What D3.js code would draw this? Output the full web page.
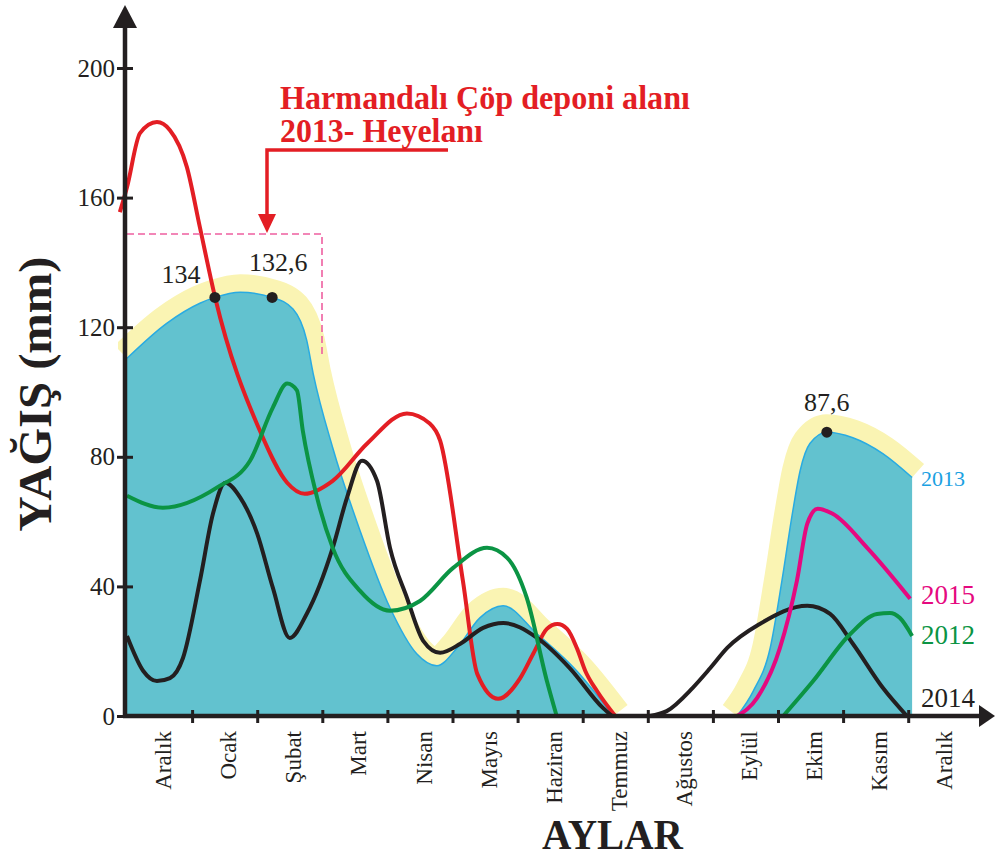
<!DOCTYPE html>
<html>
<head>
<meta charset="utf-8">
<script src="https://cdn.jsdelivr.net/npm/d3@7"></script>
<style>
  body { margin: 0; background: #fff; }
  text { font-family: "Liberation Serif", "DejaVu Serif", serif; }
</style>
</head>
<body>
<svg id="svg1" width="995" height="858"></svg>
<script>
// aylar (x ekseni), ay indisi: 0 = sol eksen, her ay bir birim
var aylar = ["Aralık", "Ocak", "Şubat", "Mart", "Nisan", "Mayıs", "Haziran",
             "Temmuz", "Ağustos", "Eylül", "Ekim", "Kasım", "Aralık"];
var yTikler = [0, 40, 80, 120, 160, 200];

// [ay, yağış mm] - resimden okunan noktalar
var yagis2013a = [[0, 110.4], [0.61, 121.2], [1.12, 127.4], [1.35, 129.2], [1.74, 130.8],
  [2.23, 129.2], [2.55, 125.6], [2.76, 116], [2.86, 105.7], [3.16, 82.8], [3.58, 57.2],
  [4.04, 33.4], [4.45, 19.2], [4.76, 15.5], [5.07, 21], [5.42, 30.3], [5.78, 34],
  [6.3, 25.3], [6.91, 13.9], [7.47, 0]];
var yagis2013b = [[9.37, 0], [9.62, 7.7], [9.88, 21], [10.06, 41.7], [10.22, 62.4],
  [10.34, 75.7], [10.49, 84.1], [10.75, 87.6], [11.15, 85.9], [11.61, 81], [12.06, 73.6]];

var yagisKirmizi = [[-0.11, 155.5], [0, 163.2], [0.2, 179.9], [0.46, 183.3], [0.66, 180.8],
  [0.92, 169.4], [1.12, 150.8], [1.35, 129.5], [2.04, 88.1], [2.46, 72], [2.73, 68.6],
  [3.16, 72.6], [3.69, 84.1], [4.3, 93.4], [4.65, 90.3], [4.81, 85], [5.16, 41.7],
  [5.38, 13], [5.7, 5.3], [6.04, 11.7], [6.24, 19.2], [6.45, 26.9], [6.61, 28.4],
  [6.76, 26.9], [6.91, 21], [7.04, 13.9], [7.22, 7.7], [7.5, 0]];

var yagis2012a = [[0, 68], [0.55, 64.3], [1.38, 70.5], [1.89, 78.8], [2.24, 95.2],
  [2.46, 102.6], [2.61, 100.5], [2.7, 88.1], [2.92, 67.4], [3.16, 51.9], [3.58, 38.6],
  [4.04, 32.5], [4.5, 35.5], [5.01, 45.7], [5.53, 51.9], [5.84, 48.8], [6.14, 36.5],
  [6.45, 10.8], [6.6, 0]];
var yagis2012b = [[10.08, 0], [10.54, 10.8], [11.11, 25.3], [11.52, 31.5], [11.72, 31.8],
  [11.87, 30.3], [12.06, 24.7]];

var yagis2014a = [[0, 24.7], [0.25, 13.9], [0.46, 10.8], [0.66, 11.7], [0.86, 17.9],
  [1.12, 41.7], [1.32, 62.4], [1.51, 72], [1.74, 67.4], [2, 56.3], [2.24, 39.6],
  [2.5, 24.1], [2.76, 31.5], [3.16, 51.9], [3.38, 67.4], [3.61, 78.8], [3.84, 72.6],
  [4.04, 51.9], [4.3, 36.5], [4.55, 23.2], [4.81, 19.5], [5.12, 22.3], [5.47, 27.2],
  [5.78, 28.7], [6.3, 24.1], [6.8, 14.8], [7.31, 2.5], [7.45, 0]];
var yagis2014b = [[8.03, 0], [8.29, 1.5], [8.69, 8.7], [8.96, 14.8], [9.22, 21],
  [9.72, 28.4], [10.45, 34], [10.8, 31.5], [11.15, 22.3], [11.61, 8.7], [11.98, 0]];

var yagis2015 = [[9.37, 0], [9.68, 5.6], [10.03, 21], [10.29, 41.7], [10.45, 59.4],
  [10.61, 64], [10.84, 62.4], [11.37, 51.9], [12.03, 36.2]];

// işaretli noktalar: [ay, yağış, yazı]
var noktalar = [[1.35, 129.2, "134"], [2.23, 129.2, "132,6"], [10.75, 87.6, "87,6"]];

var svg = d3.select("#svg1");
var koyu = "#231f20";
var yazi = "'Liberation Serif', 'DejaVu Serif', serif";

var x = d3.scaleLinear().domain([0, 13]).range([127, 127 + 13 * 65.1]);
var y = d3.scaleLinear().domain([0, 200]).range([716, 68]);

var cizgi = d3.line()
    .x(function(d) { return x(d[0]); })
    .y(function(d) { return y(d[1]); })
    .curve(d3.curveMonotoneX);

var alan = d3.area()
    .x(function(d) { return x(d[0]); })
    .y0(y(0))
    .y1(function(d) { return y(d[1]); })
    .curve(d3.curveMonotoneX);

// sarı hale
svg.append("clipPath").attr("id", "kes")
  .append("rect").attr("x", 118).attr("y", 0).attr("width", 812).attr("height", y(0));

svg.append("g").attr("clip-path", "url(#kes)")
  .selectAll("path").data([yagis2013a, yagis2013b]).enter()
  .append("path")
    .attr("d", cizgi)
    .attr("fill", "none")
    .attr("stroke", "#faf4b3")
    .attr("stroke-width", 36);

// 2013 alanı
svg.selectAll(".alan").data([yagis2013a, yagis2013b]).enter()
  .append("path").attr("class", "alan")
    .attr("d", alan)
    .attr("fill", "#62c2cf");

svg.selectAll(".ust").data([yagis2013a, yagis2013b]).enter()
  .append("path").attr("class", "ust")
    .attr("d", cizgi)
    .attr("fill", "none")
    .attr("stroke", "#29abe2")
    .attr("stroke-width", 1.5);

// çizgiler
var seriler = [
  {veri: yagisKirmizi, renk: "#e31e24"},
  {veri: yagis2014a, renk: koyu},
  {veri: yagis2014b, renk: koyu},
  {veri: yagis2012a, renk: "#0b9444"},
  {veri: yagis2012b, renk: "#0b9444"},
  {veri: yagis2015, renk: "#e5097f"}
];

svg.selectAll(".seri").data(seriler).enter()
  .append("path").attr("class", "seri")
    .attr("d", function(d) { return cizgi(d.veri); })
    .attr("fill", "none")
    .attr("stroke", function(d) { return d.renk; })
    .attr("stroke-width", 4)
    .attr("stroke-linejoin", "round");

// noktalar ve değerler
var kaydir = [[-34, -14], [6, -26], [0, -21]];
svg.selectAll(".nokta").data(noktalar).enter()
  .append("circle").attr("class", "nokta")
    .attr("cx", function(d) { return x(d[0]); })
    .attr("cy", function(d) { return y(d[1]); })
    .attr("r", 5.5)
    .attr("fill", koyu);

svg.selectAll(".deger").data(noktalar).enter()
  .append("text").attr("class", "deger")
    .attr("x", function(d, i) { return x(d[0]) + kaydir[i][0]; })
    .attr("y", function(d, i) { return y(d[1]) + kaydir[i][1]; })
    .attr("text-anchor", "middle")
    .style("font-family", yazi)
    .style("font-size", "26px")
    .attr("fill", koyu)
    .text(function(d) { return d[2]; });

// yıl etiketleri, serilerin son noktasına göre
var yillar = [
  {veri: yagis2013b, yazi: "2013", renk: "#1ba1e2", boy: 22, dy: 8},
  {veri: yagis2015, yazi: "2015", renk: "#e5097f", boy: 27, dy: 5},
  {veri: yagis2012b, yazi: "2012", renk: "#0b9444", boy: 27, dy: 8},
  {veri: yagis2014b, yazi: "2014", renk: koyu, boy: 27, dy: -9}
];
svg.selectAll(".yil").data(yillar).enter()
  .append("text").attr("class", "yil")
    .attr("x", 921)
    .attr("y", function(d) { return y(d.veri[d.veri.length - 1][1]) + d.dy; })
    .attr("fill", function(d) { return d.renk; })
    .style("font-family", yazi)
    .style("font-size", function(d) { return d.boy + "px"; })
    .text(function(d) { return d.yazi; });

// heyelan kutusu ve ok
svg.append("path")
  .attr("d", "M" + x(0) + "," + 234 + "H322V355")
  .attr("fill", "none")
  .attr("stroke", "#ee5fa0")
  .attr("stroke-width", 1.6)
  .attr("stroke-dasharray", "7,4");

svg.append("path")
  .attr("d", "M448,150H267V218")
  .attr("fill", "none")
  .attr("stroke", "#e31e24")
  .attr("stroke-width", 3.5);
svg.append("path")
  .attr("d", "M258,214L276,214L267,233Z")
  .attr("fill", "#e31e24");

svg.append("text")
  .attr("x", 280).attr("y", 109)
  .attr("textLength", 410).attr("lengthAdjust", "spacingAndGlyphs")
  .style("font-family", yazi)
  .style("font-size", "34px").style("font-weight", "bold")
  .attr("fill", "#e31e24")
  .text("Harmandalı Çöp deponi alanı");
svg.append("text")
  .attr("x", 280).attr("y", 142)
  .attr("textLength", 203).attr("lengthAdjust", "spacingAndGlyphs")
  .style("font-family", yazi)
  .style("font-size", "34px").style("font-weight", "bold")
  .attr("fill", "#e31e24")
  .text("2013- Heyelanı");

// y ekseni
var gY = svg.append("g")
  .attr("transform", "translate(125,0)")
  .call(d3.axisLeft(y).tickValues(yTikler).tickSize(8).tickPadding(2));
gY.select(".domain").remove();
gY.selectAll(".tick line").attr("x1", 8).attr("stroke", koyu).attr("stroke-width", 3);
gY.selectAll(".tick text").style("font-family", yazi).style("font-size", "25px").attr("fill", koyu);

svg.append("line")
  .attr("x1", 125).attr("x2", 125).attr("y1", y(0) + 2).attr("y2", 24)
  .attr("stroke", koyu).attr("stroke-width", 4.5);
svg.append("path").attr("d", "M125,5L113,28L137,28Z").attr("fill", koyu);

// x ekseni
var gX = svg.append("g")
  .attr("transform", "translate(0," + y(0) + ")")
  .call(d3.axisBottom(x).tickValues(d3.range(1, 13)).tickSize(7).tickFormat(""));
gX.select(".domain").remove();
gX.selectAll(".tick line").attr("y1", -6).attr("stroke", koyu).attr("stroke-width", 3);

svg.append("line")
  .attr("x1", 123).attr("x2", 984).attr("y1", y(0)).attr("y2", y(0))
  .attr("stroke", koyu).attr("stroke-width", 4.5);
svg.append("path").attr("d", "M995,716L979,705L979,727Z").attr("fill", koyu);

var gAy = svg.append("g")
  .attr("transform", "translate(3," + y(0) + ")")
  .call(d3.axisBottom(x).tickValues(d3.range(13).map(function(i) { return i + 0.5; }))
    .tickSize(0).tickFormat(function(d, i) { return aylar[i]; }));
gAy.select(".domain").remove();
gAy.selectAll(".tick text")
  .attr("transform", "rotate(-90)")
  .attr("x", -15).attr("y", 0).attr("dy", "0.35em")
  .style("text-anchor", "end")
  .style("font-family", yazi)
  .style("font-size", "23px")
  .attr("fill", koyu);

// eksen başlıkları
svg.append("text")
  .attr("transform", "translate(51,394) rotate(-90)")
  .attr("text-anchor", "middle")
  .attr("textLength", 275).attr("lengthAdjust", "spacingAndGlyphs")
  .style("font-family", yazi)
  .style("font-size", "46px").style("font-weight", "bold")
  .attr("fill", koyu)
  .text("YAĞIŞ (mm)");

svg.append("text")
  .attr("x", 542).attr("y", 849)
  .attr("textLength", 141).attr("lengthAdjust", "spacingAndGlyphs")
  .style("font-family", yazi)
  .style("font-size", "42px").style("font-weight", "bold")
  .attr("fill", koyu)
  .text("AYLAR");
</script>
</body>
</html>
